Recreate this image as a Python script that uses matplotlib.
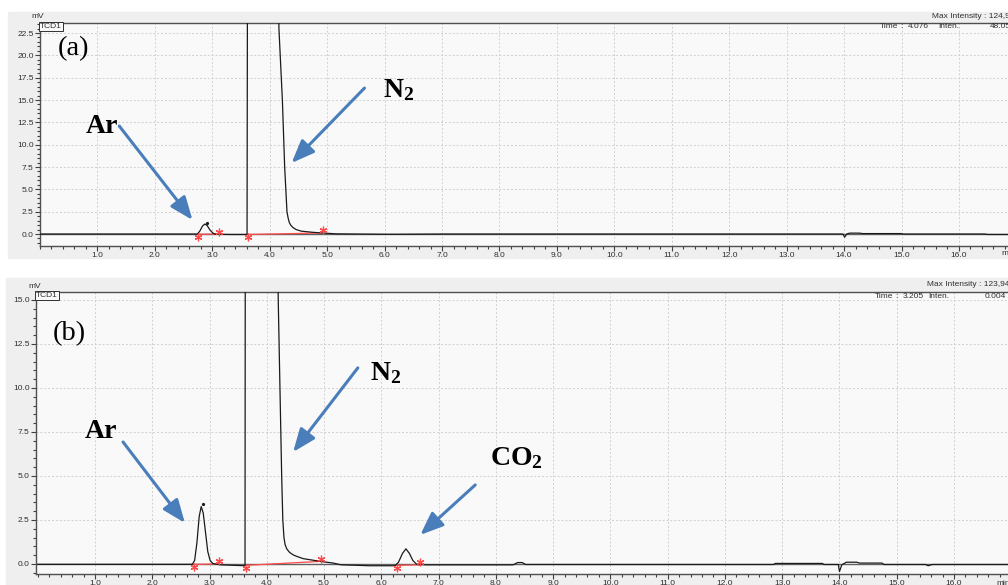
import matplotlib
matplotlib.use("Agg")
import matplotlib.pyplot as plt
from matplotlib.patches import Rectangle
from matplotlib.ticker import MultipleLocator, FormatStrFormatter
from matplotlib.transforms import offset_copy, blended_transform_factory

plt.rcParams['font.family'] = ['Liberation Sans', 'DejaVu Sans']
plt.rcParams['mathtext.fontset'] = 'custom'
plt.rcParams['mathtext.rm'] = 'Liberation Serif'
plt.rcParams['mathtext.bf'] = 'Liberation Serif:bold'

# ---------------- data ----------------
# panel (a) chromatogram trace (time in min, signal in mV)
time_a = [0.0, 2.74, 2.78, 2.83, 2.87, 2.91, 2.96, 3.01, 3.06, 3.3, 3.605,
          3.615, 3.625, 3.70, 3.90, 4.076, 4.12, 4.14, 4.16, 4.22, 4.26, 4.30,
          4.32, 4.34, 4.37, 4.41, 4.46, 4.55, 4.75, 4.95, 5.16, 5.5, 6.1, 7.0,
          13.98, 14.01, 14.05, 14.1, 14.27, 14.32, 15.0, 15.03, 16.45, 16.5, 17.4]
sig_a = [0.0, 0.0, 0.3, 0.9, 1.12, 0.95, 0.45, 0.1, -0.02, -0.05, -0.05,
         40, 110, 122, 124, 124.9, 80, 40, 23, 15, 7.5, 2.5,
         1.8, 1.3, 0.95, 0.7, 0.5, 0.32, 0.19, 0.1, 0.02, 0.0, -0.03, 0.0,
         0.0, -0.35, 0.02, 0.1, 0.1, 0.05, 0.05, 0.0, 0.0, -0.05, -0.05]

# panel (b) chromatogram trace
time_b = [0.0, 2.70, 2.74, 2.78, 2.82, 2.855, 2.89, 2.93, 2.97, 3.01, 3.06,
          3.2, 3.62, 3.63, 3.645, 3.8, 4.0, 4.076, 4.14, 4.17, 4.20, 4.23,
          4.26, 4.28, 4.30, 4.32, 4.35, 4.40, 4.47, 4.55, 4.64, 4.93, 5.16,
          5.3, 5.8, 6.24, 6.30, 6.37, 6.43, 6.49, 6.55, 6.62, 6.8, 8.3, 8.38,
          8.46, 8.52, 12.85, 12.88, 13.7, 13.73, 13.98, 14.0, 14.04, 14.12,
          14.3, 14.35, 14.74, 14.78, 15.5, 15.55, 15.62, 17.4]
sig_b = [-0.02, -0.02, 0.2, 1.2, 2.7, 3.26, 2.9, 1.8, 0.7, 0.2, 0.02,
         -0.05, -0.1, 40, 110, 121, 123.5, 123.9, 70, 25, 15, 10,
         5, 2.5, 1.5, 1.1, 0.85, 0.65, 0.5, 0.4, 0.3, 0.15, 0.05,
         -0.05, -0.1, -0.1, 0.1, 0.6, 0.86, 0.6, 0.2, -0.03, -0.05, -0.05, 0.08,
         0.08, -0.03, -0.03, 0.03, 0.03, -0.03, -0.03, -0.43, -0.05, 0.1,
         0.1, 0.05, 0.05, -0.03, -0.03, -0.1, -0.03, -0.03]

# integration baselines (start, end) for each peak
base_a_t = [[2.75, 3.12], [3.62, 4.93]]
base_a_s = [[-0.02, 0.0], [-0.05, 0.12]]
base_b_t = [[2.73, 3.16], [3.63, 4.95], [6.27, 6.68]]
base_b_s = [[-0.02, 0.0], [-0.08, 0.15], [-0.08, -0.05]]

# peak-top markers
peak_a = ([2.91], [1.2])
peak_b = ([2.89], [3.39])

yticks_a = [0.0, 2.5, 5.0, 7.5, 10.0, 12.5, 15.0, 17.5, 20.0, 22.5]
yticks_b = [0.0, 2.5, 5.0, 7.5, 10.0, 12.5, 15.0]
xticks = [1.0, 2.0, 3.0, 4.0, 5.0, 6.0, 7.0, 8.0, 9.0, 10.0, 11.0, 12.0,
          13.0, 14.0, 15.0, 16.0]

header_a = ("Max Intensity : 124,985", "4.076", "48.059")
header_b = ("Max Intensity : 123,94", "3.205", "0.004")

# ---------------- figure ----------------
W, H = 1008, 585
fig = plt.figure(figsize=(W / 100, H / 100), dpi=100)
fig.patch.set_facecolor('white')

def fx(px):
    return px / W

def fy(py):
    return 1 - py / H

# grey panel backgrounds
fig.patches.append(Rectangle((fx(8), fy(258)), 1.0, fy(12) - fy(258),
                             transform=fig.transFigure, color='#efefef', zorder=-10))
fig.patches.append(Rectangle((fx(6), fy(600)), 1.0, fy(278) - fy(600),
                             transform=fig.transFigure, color='#efefef', zorder=-10))

BLUE = '#4a7ebb'
RED = '#ff4a4a'
TXT = '#303030'
FS = 6


def setup(ax, ylim, xlim, yticks):
    ax.set_facecolor('#f9f9f9')
    ax.set_xlim(*xlim)
    ax.set_ylim(*ylim)
    ax.set_xticks(xticks)
    ax.set_yticks(yticks)
    ax.xaxis.set_minor_locator(MultipleLocator(0.2))
    ax.yaxis.set_minor_locator(MultipleLocator(0.5))
    ax.xaxis.set_major_formatter(FormatStrFormatter('%.1f'))
    ax.yaxis.set_major_formatter(FormatStrFormatter('%.1f'))
    ax.tick_params(which='both', direction='out', colors='#404040',
                   labelcolor=TXT, labelsize=FS, width=0.8, pad=1.0)
    ax.tick_params(which='major', length=3.5)
    ax.tick_params(which='minor', length=2)
    for s in ('left', 'bottom', 'top'):
        ax.spines[s].set_color('#505050')
        ax.spines[s].set_linewidth(1.0)
    ax.spines['right'].set_visible(False)
    ax.grid(True, which='major', color='#d0d0d0', linestyle=(0, (2, 2)),
            linewidth=0.7)
    ax.set_axisbelow(True)
    ax.axhline(0, color='#606060', lw=1.0, zorder=2)


def draw(ax, t, s, bt, bs, pk):
    ax.plot(t, s, color='#1a1a1a', lw=0.9, zorder=4)
    below = offset_copy(ax.transData, fig=fig, x=0, y=-2.5, units='dots')
    above = offset_copy(ax.transData, fig=fig, x=0, y=2.5, units='dots')
    for tt, ss in zip(bt, bs):
        ax.plot(tt, ss, color=RED, lw=0.9, zorder=3)
        ax.plot(tt[0], ss[0], marker=(6, 2, 0), ms=5.5, mew=0.9, color=RED,
                transform=below, zorder=5, clip_on=False)
        ax.plot(tt[1], ss[1], marker=(6, 2, 0), ms=5.5, mew=0.9, color=RED,
                transform=above, zorder=5, clip_on=False)
    ax.plot(pk[0], pk[1], 'o', color='#1a1a1a', ms=1.3, zorder=5)


def arrow(ax, start, tip):
    ax.annotate('', xy=tip, xytext=start, xycoords='data', textcoords='data',
                arrowprops=dict(arrowstyle='-|>,head_length=0.7,head_width=0.28',
                                color=BLUE, lw=2.2, mutation_scale=20,
                                shrinkA=0, shrinkB=0), zorder=6)


def header(ax, x_left, y_mv, xmv, texts, y_max, y_time, xs):
    fig.text(fx(xmv), fy(y_mv), 'mV', fontsize=FS, color=TXT, ha='center', va='center')
    fig.text(fx(xs[0]), fy(y_max), texts[0], fontsize=FS, color=TXT, ha='left', va='center')
    fig.text(fx(xs[1]), fy(y_time), 'Time', fontsize=FS, color=TXT, ha='left', va='center')
    fig.text(fx(xs[1] + 20), fy(y_time), ':', fontsize=FS, color=TXT, ha='left', va='center')
    fig.text(fx(xs[2]), fy(y_time), texts[1], fontsize=FS, color=TXT, ha='left', va='center')
    fig.text(fx(xs[3]), fy(y_time), 'Inten.', fontsize=FS, color=TXT, ha='left', va='center')
    fig.text(fx(xs[4]), fy(y_time), texts[2], fontsize=FS, color=TXT, ha='left', va='center')
    ax.text(0.0, 1.0, 'TCD1', transform=ax.transAxes, fontsize=FS, color=TXT,
            ha='left', va='top',
            bbox=dict(boxstyle='square,pad=0.15', fc='#f9f9f9', ec='#303030', lw=0.7))
    tr = blended_transform_factory(ax.transData, ax.transAxes)
    ax.text(16.74, -0.02, 'min', transform=tr, fontsize=FS, color=TXT,
            ha='left', va='top')


# ----- panel (a) -----
ax1 = fig.add_axes([fx(40), fy(246), fx(1040) - fx(40), fy(23) - fy(246)])
setup(ax1, (-1.34, 23.62), (0.0, (1040 - 40.6) / 57.4), yticks_a)
draw(ax1, time_a, sig_a, base_a_t, base_a_s, peak_a)
header(ax1, 40, 17, 38, header_a, 17, 27, [932, 880, 908, 938, 990])

ax1.text(0.58, 20.8, '(a)', fontsize=20.5, family='Liberation Serif',
         ha='center', va='center', color='black', zorder=7)
ax1.text(1.08, 11.3, 'Ar', fontsize=20, family='Liberation Serif',
         weight='bold', ha='center', va='baseline', color='black', zorder=7)
ax1.text(5.97, 15.34, r'$\mathbf{N_2}$', fontsize=20, ha='left',
         va='baseline', color='black', zorder=7)
arrow(ax1, (1.38, 12.09), (2.655, 1.57))
arrow(ax1, (5.65, 16.34), (4.38, 7.95))

# ----- panel (b) -----
ax2 = fig.add_axes([fx(36), fy(574), fx(1040) - fx(36), fy(292) - fy(574)])
setup(ax2, (-0.57, 15.45), ((36 - 37.7) / 57.27, (1040 - 37.7) / 57.27), yticks_b)
draw(ax2, time_b, sig_b, base_b_t, base_b_s, peak_b)
header(ax2, 36, 286, 35, header_b, 285, 296, [927, 875, 903, 928, 985])

ax2.text(0.55, 13.07, '(b)', fontsize=20.5, family='Liberation Serif',
         ha='center', va='center', color='black', zorder=7)
ax2.text(1.10, 7.16, 'Ar', fontsize=20, family='Liberation Serif',
         weight='bold', ha='center', va='baseline', color='black', zorder=7)
ax2.text(5.8, 10.45, r'$\mathbf{N_2}$', fontsize=20, ha='left',
         va='baseline', color='black', zorder=7)
ax2.text(7.9, 5.63, r'$\mathbf{CO_2}$', fontsize=20, ha='left',
         va='baseline', color='black', zorder=7)
arrow(ax2, (1.49, 6.93), (2.57, 2.33))
arrow(ax2, (5.59, 11.14), (4.46, 6.36))
arrow(ax2, (7.64, 4.49), (6.68, 1.65))

fig.savefig('out.png', dpi=100)
